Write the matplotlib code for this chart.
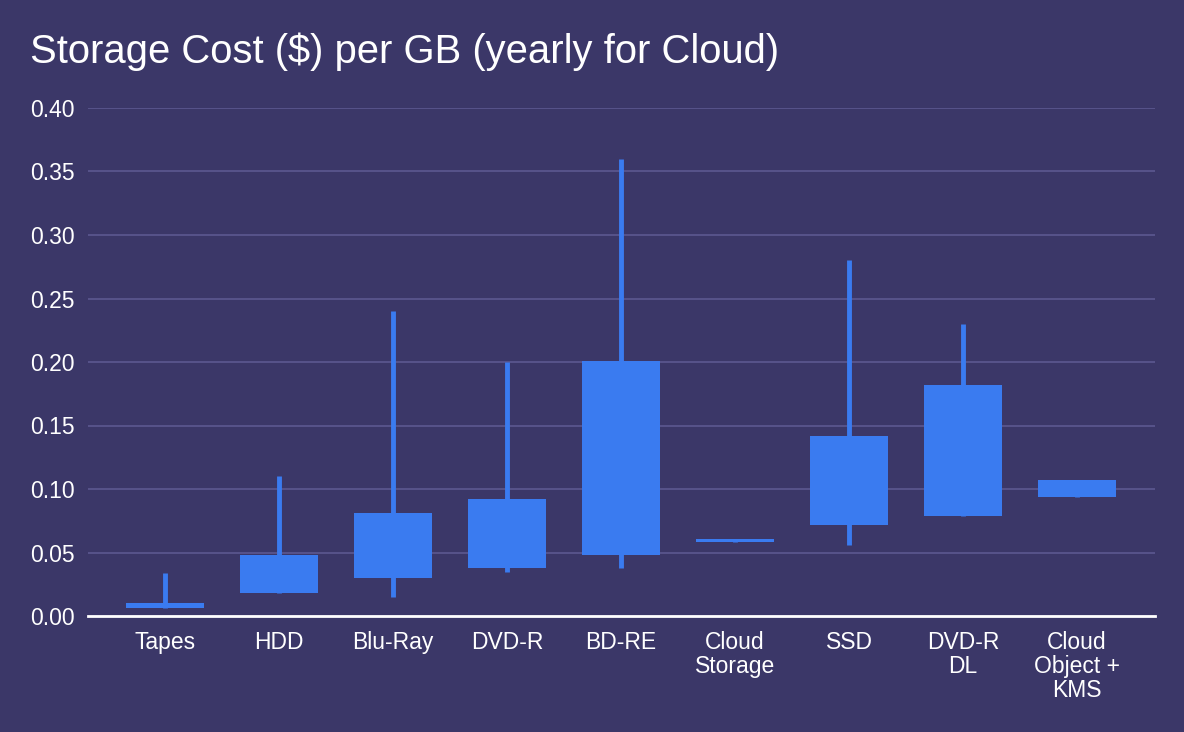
import numpy as np
import matplotlib.pyplot as plt

plt.rcParams['font.family'] = ['Liberation Sans', 'DejaVu Sans']

categories = ['Tapes', 'HDD', 'Blu-Ray', 'DVD-R', 'BD-RE', 'Cloud\nStorage',
              'SSD', 'DVD-R\nDL', 'Cloud\nObject +\nKMS']
low = [0.006, 0.018, 0.015, 0.035, 0.038, 0.058, 0.056, 0.079, 0.094]
box_lo = [0.006, 0.018, 0.030, 0.038, 0.048, 0.058, 0.072, 0.079, 0.094]
box_hi = [0.010, 0.048, 0.081, 0.092, 0.201, 0.061, 0.142, 0.182, 0.107]
high = [0.034, 0.110, 0.240, 0.200, 0.360, 0.061, 0.280, 0.230, 0.107]
yticks = np.arange(0, 0.41, 0.05)

bg = '#3b3768'
bar_color = '#3a7bf0'

fig = plt.figure(figsize=(11.84, 7.32), dpi=100, facecolor=bg)
ax = fig.add_axes([88 / 1184, 1 - 616 / 732, (1155 - 88) / 1184, (616 - 108) / 732])
ax.set_facecolor(bg)

x = np.arange(len(categories))
ax.vlines(x, low, high, color=bar_color, linewidth=3.5, zorder=3)
ax.bar(x, np.array(box_hi) - np.array(box_lo), bottom=box_lo, width=0.68,
       color=bar_color, zorder=4)

ax.set_ylim(0, 0.40)
ax.set_xlim(-0.675, 8.684)
ax.set_yticks(yticks)
ax.set_yticklabels([f'{v:.2f}' for v in yticks])
ax.set_xticks(x)
ax.set_xticklabels(categories, linespacing=1.08)
ax.tick_params(axis='both', length=0, colors='white', labelsize=16.5)
ax.tick_params(axis='y', pad=9.5)
ax.tick_params(axis='x', pad=10.5)
ax.grid(axis='y', color='#5c5890', linewidth=1.2, zorder=0)
ax.set_axisbelow(True)
for s in ['left', 'right', 'top']:
    ax.spines[s].set_visible(False)
ax.spines['bottom'].set_color('white')
ax.spines['bottom'].set_linewidth(2)
ax.spines['bottom'].set_zorder(5)

fig.text(30 / 1184, 1 - 52 / 732, 'Storage Cost ($) per GB (yearly for Cloud)',
         color='white', fontsize=28.8, va='center', ha='left')

fig.savefig('out.png', dpi=100, facecolor=bg)
